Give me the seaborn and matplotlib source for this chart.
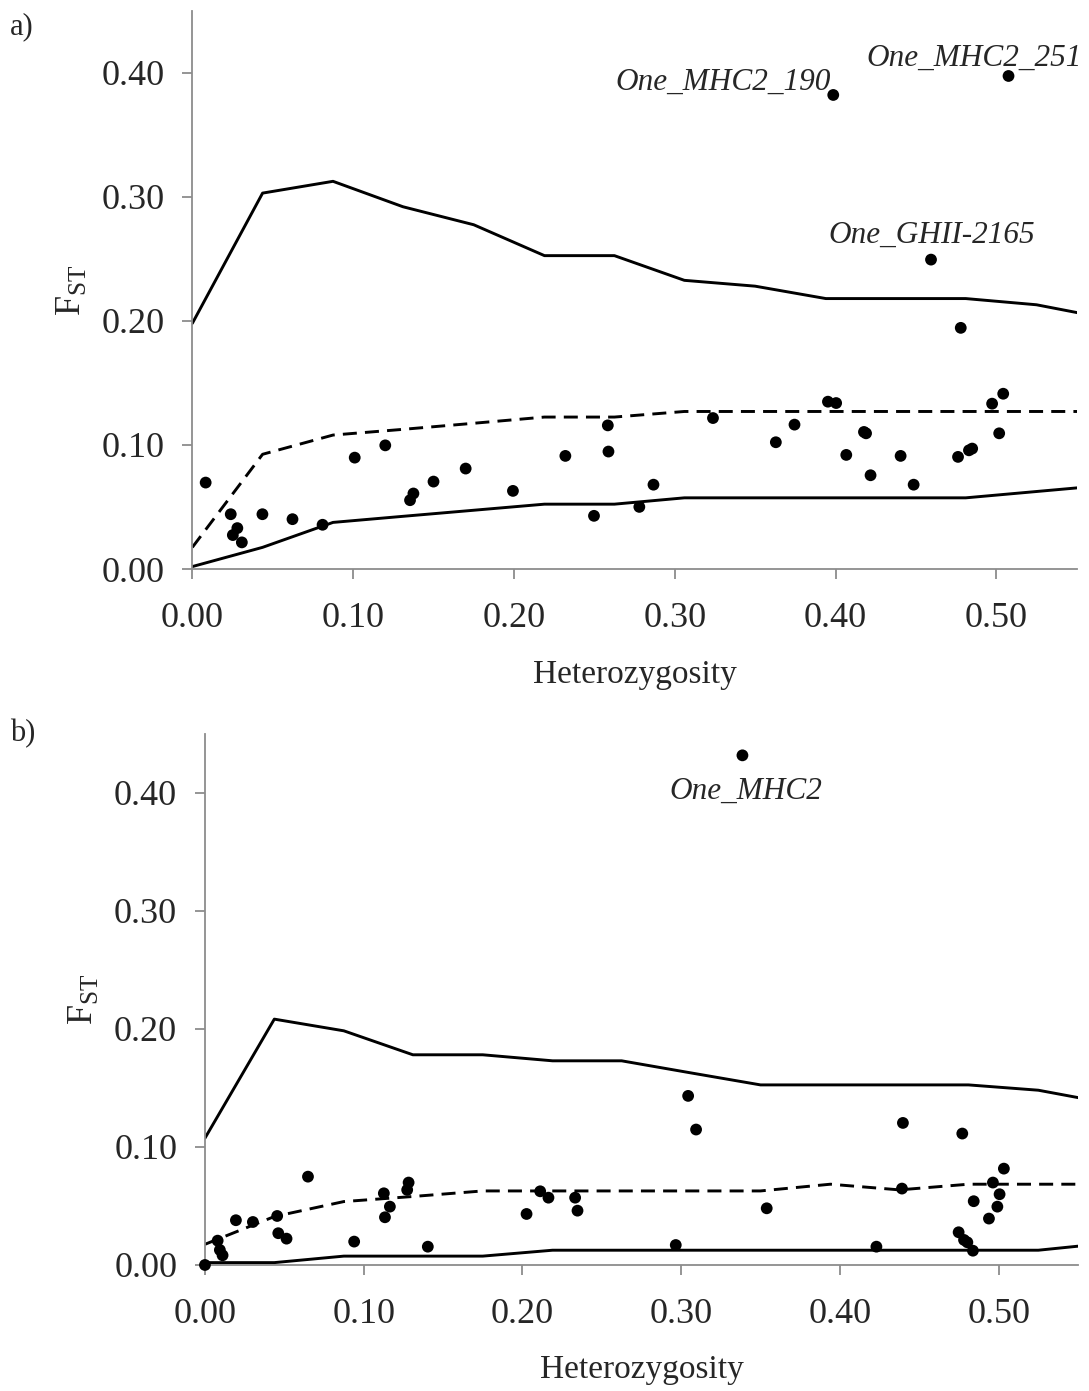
import numpy as np
import pandas as pd
import seaborn as sns
import matplotlib.pyplot as plt

# heterozygosity bins of the simulated envelopes
het_bins = [0.0, 0.0437, 0.0875, 0.131, 0.175, 0.219, 0.2625, 0.306, 0.35, 0.394, 0.4375, 0.481, 0.525, 0.569]

# panel a) envelopes
a_upper = [0.198, 0.303, 0.3125, 0.292, 0.2775, 0.2526, 0.2526, 0.2327, 0.228, 0.218, 0.218, 0.218, 0.213, 0.202]
a_median = [0.0175, 0.0925, 0.108, 0.1126, 0.1175, 0.1225, 0.1225, 0.127, 0.127, 0.127, 0.127, 0.127, 0.127, 0.127]
a_lower = [0.002, 0.0175, 0.0376, 0.0425, 0.0474, 0.0523, 0.0523, 0.0574, 0.0574, 0.0574, 0.0574, 0.0574, 0.0625, 0.0676]

# panel a) loci
a_het = [0.0083, 0.0239, 0.028, 0.0252, 0.0308, 0.0436, 0.0623, 0.081, 0.101, 0.120,
         0.1375, 0.1354, 0.150, 0.170, 0.1994, 0.232, 0.2584, 0.2588, 0.2498, 0.278,
         0.2868, 0.3238, 0.3629, 0.3745, 0.3953, 0.4004, 0.4067, 0.4177, 0.419, 0.4218,
         0.4405, 0.4486, 0.4594, 0.4779, 0.4762, 0.483, 0.485, 0.4974, 0.5043, 0.5018,
         0.3986, 0.5076]
a_fst = [0.0697, 0.0442, 0.033, 0.0274, 0.0215, 0.0442, 0.0402, 0.0357, 0.0898, 0.0997,
         0.0609, 0.0555, 0.0705, 0.081, 0.063, 0.0912, 0.1158, 0.0947, 0.0429, 0.0501,
         0.068, 0.1217, 0.1022, 0.1164, 0.1349, 0.1338, 0.092, 0.1105, 0.1094, 0.0756,
         0.0912, 0.068, 0.2494, 0.1944, 0.0904, 0.0957, 0.0971, 0.1333, 0.1413, 0.1094,
         0.3821, 0.3974]
a_names = ["One_MHC2_190", "One_MHC2_251", "One_GHII-2165"]
a_name_pos = [(0.3303, 0.392), (0.4864, 0.412), (0.46, 0.2687)]

# panel b) envelopes
b_upper = [0.1074, 0.2082, 0.1983, 0.178, 0.178, 0.1729, 0.1729, 0.1627, 0.1525, 0.1525, 0.1525, 0.1525, 0.148, 0.137]
b_median = [0.0175, 0.041, 0.0537, 0.058, 0.0627, 0.0627, 0.0627, 0.0627, 0.0627, 0.0684, 0.0636, 0.0684, 0.0684, 0.0684]
b_lower = [0.002, 0.002, 0.0075, 0.0075, 0.0075, 0.0125, 0.0125, 0.0125, 0.0125, 0.0125, 0.0125, 0.0125, 0.0125, 0.0185]

# panel b) loci
b_het = [0.0, 0.008, 0.0094, 0.0111, 0.0195, 0.0302, 0.0455, 0.0462, 0.0514, 0.0649,
         0.094, 0.1127, 0.1165, 0.1134, 0.1283, 0.1274, 0.1404, 0.2026, 0.2112, 0.2164,
         0.2332, 0.2347, 0.2966, 0.3044, 0.3094, 0.3539, 0.423, 0.4397, 0.4391, 0.4771,
         0.4748, 0.4782, 0.4803, 0.4838, 0.4843, 0.4939, 0.4964, 0.4992, 0.5006, 0.5033,
         0.3386]
b_fst = [0.0, 0.0206, 0.0127, 0.0082, 0.0379, 0.0364, 0.0415, 0.0269, 0.0223, 0.0748,
         0.0198, 0.0607, 0.0494, 0.0404, 0.0698, 0.0636, 0.0155, 0.0432, 0.0624, 0.057,
         0.057, 0.046, 0.0169, 0.1432, 0.1147, 0.048, 0.0155, 0.1203, 0.0647, 0.1113,
         0.0277, 0.0212, 0.0192, 0.0121, 0.054, 0.0393, 0.0698, 0.0494, 0.0599, 0.0816,
         0.4316]
b_names = ["One_MHC2"]
b_name_pos = [(0.341, 0.401)]

sns.set_style("white")
plt.rcParams["font.family"] = ["Liberation Serif", "DejaVu Serif"]
plt.rcParams["mathtext.fontset"] = "custom"
plt.rcParams["mathtext.rm"] = "Liberation Serif"

fig = plt.figure(figsize=(10.89, 13.91), dpi=100)
ax_a = fig.add_axes([0.1766, 0.5909, 0.8121, 0.4014])
ax_b = fig.add_axes([0.1882, 0.0906, 0.8017, 0.382])

panels = [
    (ax_a, "a)", 0.9807, a_upper, a_median, a_lower, a_het, a_fst, a_names, a_name_pos),
    (ax_b, "b)", 0.4726, b_upper, b_median, b_lower, b_het, b_fst, b_names, b_name_pos),
]

for ax, tag, tag_y, upper, median, lower, het, fst, names, name_pos in panels:
    env = pd.DataFrame({"H": het_bins, "upper": upper, "median": median, "lower": lower})
    sns.lineplot(data=env, x="H", y="upper", ax=ax, color="black", lw=2.1)
    sns.lineplot(data=env, x="H", y="lower", ax=ax, color="black", lw=2.1)
    sns.lineplot(data=env, x="H", y="median", ax=ax, color="black", lw=2.1,
                 dashes=False, linestyle=(0, (4.8, 2.8)))

    loci = pd.DataFrame({"H": het, "F": fst})
    sns.scatterplot(data=loci, x="H", y="F", ax=ax, color="black", s=72,
                    edgecolor="none", clip_on=False, zorder=5)

    for name, (x, y) in zip(names, name_pos):
        ax.text(x, y, name, style="italic", fontsize=22.5, ha="center", va="center",
                clip_on=False)

    ax.set_xlim(0, 0.55)
    ax.set_ylim(0, 0.45)
    ax.set_xticks([0.0, 0.1, 0.2, 0.3, 0.4, 0.5])
    ax.set_yticks([0.0, 0.1, 0.2, 0.3, 0.4])
    ax.xaxis.set_major_formatter(plt.FormatStrFormatter("%.2f"))
    ax.yaxis.set_major_formatter(plt.FormatStrFormatter("%.2f"))

    sns.despine(ax=ax)
    for side in ["left", "bottom"]:
        ax.spines[side].set_color("#8c8c8c")
        ax.spines[side].set_linewidth(1.3)
    ax.tick_params(axis="both", which="major", direction="out", length=7, width=1.3,
                   color="#8c8c8c", labelsize=26, bottom=True, left=True)
    ax.tick_params(axis="x", pad=17)
    ax.tick_params(axis="y", pad=13)

    ax.set_xlabel("Heterozygosity", fontsize=24, labelpad=17)
    ax.set_ylabel(r"F$_{\mathrm{ST}}$", fontsize=26, labelpad=10)

    fig.text(0.009, tag_y, tag, fontsize=22, ha="left", va="center")

fig.savefig("out.png", dpi=100)
